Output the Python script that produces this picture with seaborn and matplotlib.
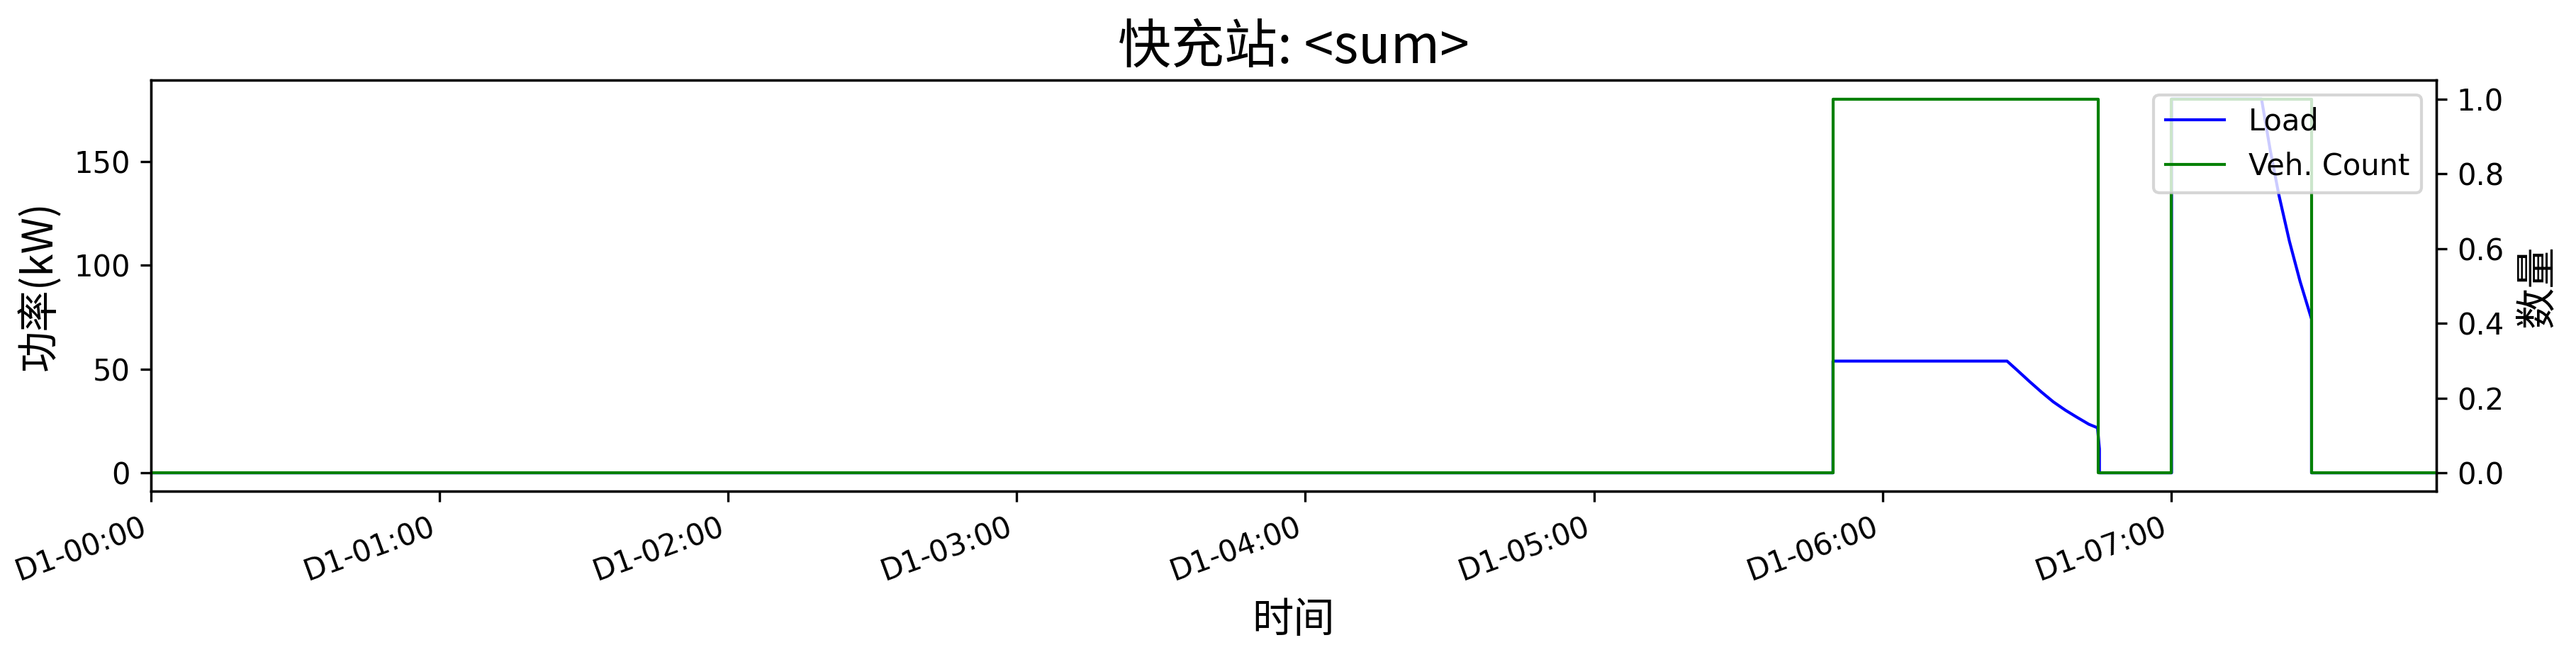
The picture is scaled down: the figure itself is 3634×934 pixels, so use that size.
import matplotlib
matplotlib.use('Agg')
import matplotlib.pyplot as plt
import seaborn as sns
import pandas as pd
from matplotlib.ticker import MultipleLocator, FuncFormatter

# time axis in minutes since D1-00:00
load_t = [0, 349.7, 349.7, 385.9, 388.2, 390.6, 393.1, 395.5, 398.0, 400.4, 402.9, 404.7, 405.1, 405.1,
          420.1, 420.1, 438.8, 440.6, 442.4, 444.6, 446.8, 449.2, 449.2, 475.1]
load_kw = [0, 0, 53.8, 53.8, 49.0, 43.9, 38.8, 34.2, 30.2, 26.8, 23.4, 21.7, 11.5, 0,
           0, 180, 180, 155.5, 133.9, 111.5, 92.3, 74.0, 0, 0]

veh_t = [0, 349.7, 404.9, 420.1, 449.2, 475.1]
veh_n = [0, 1, 0, 1, 0, 0]

title = '快充站: <sum>'
cjk = ['Noto Sans CJK SC', 'DejaVu Sans']

df_load = pd.DataFrame({'t': load_t, 'load': load_kw})
df_veh = pd.DataFrame({'t': veh_t, 'n': veh_n})

fig, ax = plt.subplots(figsize=(3634 / 300, 934 / 300), dpi=300)
fig.subplots_adjust(left=0.0586, right=0.9457, top=0.8787, bottom=0.2575)

sns.lineplot(data=df_load, x='t', y='load', ax=ax, color='blue', lw=1,
             label='Load', estimator=None, sort=False)
ax2 = ax.twinx()
sns.lineplot(data=df_veh, x='t', y='n', ax=ax2, color='green', lw=1,
             label='Veh. Count', estimator=None, sort=False, drawstyle='steps-post')

ax.set_xlim(0, veh_t[-1])
ax.xaxis.set_major_locator(MultipleLocator(60))
ax.xaxis.set_major_formatter(FuncFormatter(
    lambda v, p: 'D1-%02d:%02d' % (int(v // 60), int(v % 60))))
plt.setp(ax.get_xticklabels(), rotation=20, ha='right')

ax.set_title(title, fontsize=18, family=cjk)
ax.set_xlabel('时间', fontsize=14, family=cjk)
ax.set_ylabel('功率(kW)', fontsize=14, family=cjk)
ax2.set_ylabel('数量', fontsize=14, family=cjk)

h1, l1 = ax.get_legend_handles_labels()
h2, l2 = ax2.get_legend_handles_labels()
ax.get_legend().remove()
ax2.legend(h1 + h2, l1 + l2, loc='upper right')

fig.savefig('out.png', dpi=300)
